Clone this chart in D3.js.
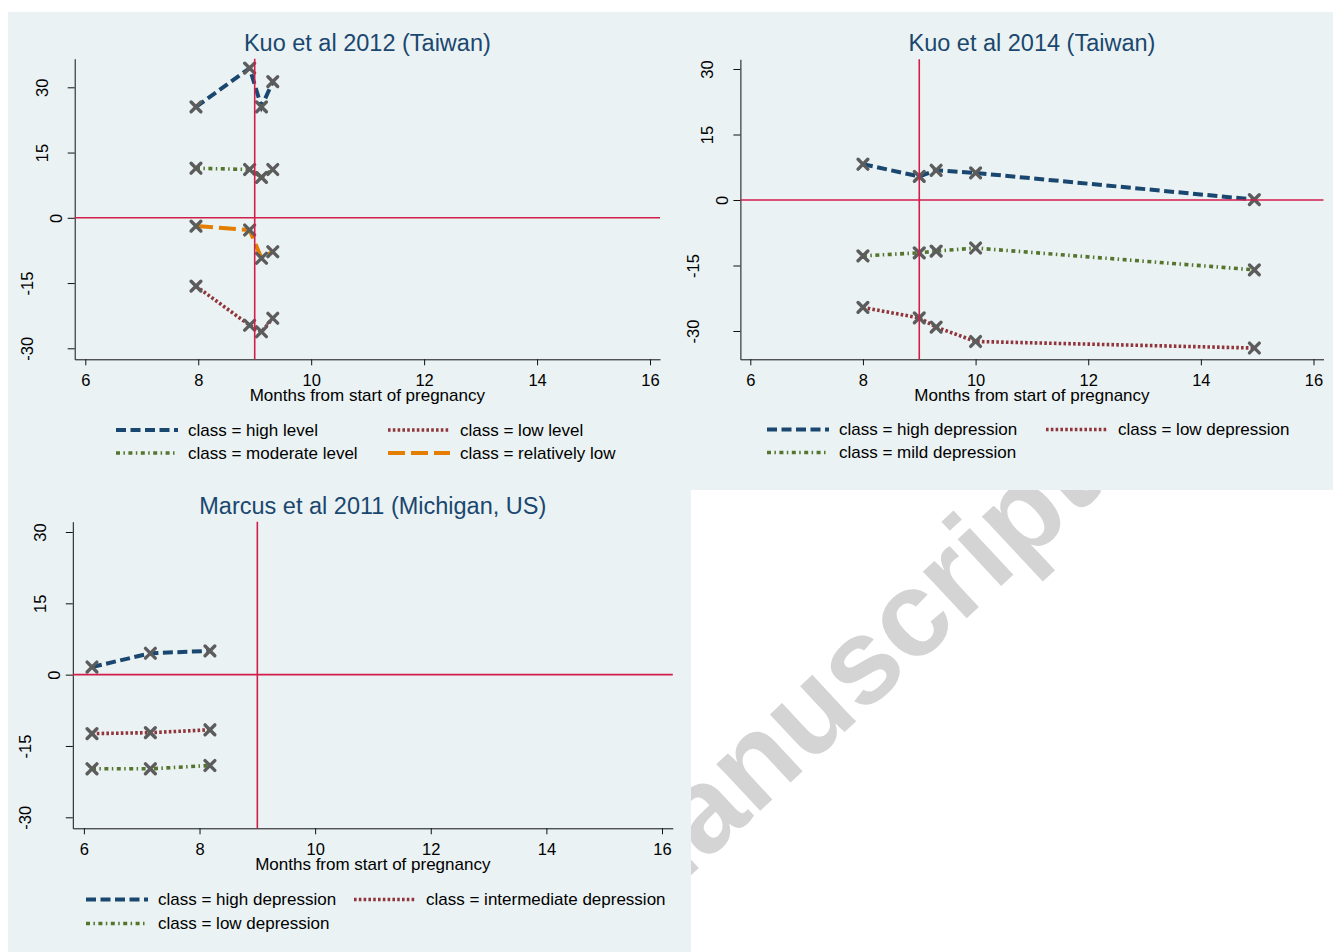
<!DOCTYPE html>
<html>
<head>
<meta charset="utf-8">
<script src="https://cdn.jsdelivr.net/npm/d3@7"></script>
<style>
body { margin: 0; background: #fff; }
svg { display: block; }
text { font-family: "Liberation Sans", Arial, sans-serif; }
</style>
</head>
<body>
<div id="chart"></div>
<script>
// ---- data ----
var xTicks = [6, 8, 10, 12, 14, 16];
var yTicks = [-30, -15, 0, 15, 30];
var refMonth = 9;
var refScore = 0;
var xTitle = "Months from start of pregnancy";

// Kuo et al 2012
var months2012 = [7.96, 8.91, 9.12, 9.32];
var highLevel = [25.5, 34.4, 25.5, 31.3];
var lowLevel = [-15.7, -24.7, -26.2, -23.1];
var moderateLevel = [11.4, 11.1, 9.3, 11.1];
var relativelyLow = [-1.9, -2.8, -9.3, -7.8];

// Kuo et al 2014
var months2014 = [8, 9, 9.3, 10, 14.95];
var highDep2014 = [8.2, 5.4, 6.8, 6.2, 0.1];
var lowDep2014 = [-24.6, -27.0, -29.1, -32.4, -33.9];
var mildDep2014 = [-12.8, -12.1, -11.7, -11.0, -16.0];

// Marcus et al 2011
var months2011 = [6.14, 7.15, 8.18];
var highDep2011 = [1.6, 4.5, 5.0];
var interDep2011 = [-12.4, -12.2, -11.6];
var lowDep2011 = [-19.8, -19.8, -19.1];

// ---- styles ----
var styles = {
  navy:   {color: "#1a476f", dash: "10,4.5", width: 4},
  maroon: {color: "#90353b", dash: "2.6,2.2", width: 3.6},
  green:  {color: "#55752f", dash: "4,3.4,1.5,3.5", width: 3.6},
  orange: {color: "#e37e00", dash: "17,6", width: 4}
};

var panels = [
  {
    title: "Kuo et al 2012 (Taiwan)",
    bg: {x: 8, y: 12, w: 672, h: 468},
    tickPx: {x6: 85.3, x16: 650, y30: 87.3, ym30: 348.3},
    plot: {left: 74.7, right: 660, top: 58.7, bottom: 359.3},
    titleY: 43,
    legend: {cols: [116, 388], rows: [430, 453]},
    months: months2012,
    series: [
      {label: "class = high level", values: highLevel, style: "navy"},
      {label: "class = low level", values: lowLevel, style: "maroon"},
      {label: "class = moderate level", values: moderateLevel, style: "green"},
      {label: "class = relatively low", values: relativelyLow, style: "orange"}
    ]
  },
  {
    title: "Kuo et al 2014 (Taiwan)",
    bg: {x: 680, y: 12, w: 653, h: 478},
    tickPx: {x6: 750.3, x16: 1313.5, y30: 69, ym30: 331},
    plot: {left: 740.4, right: 1323.5, top: 59.3, bottom: 359.3},
    titleY: 43,
    legend: {cols: [767, 1046], rows: [429.5, 452.5]},
    months: months2014,
    series: [
      {label: "class = high depression", values: highDep2014, style: "navy"},
      {label: "class = low depression", values: lowDep2014, style: "maroon"},
      {label: "class = mild depression", values: mildDep2014, style: "green"}
    ]
  },
  {
    title: "Marcus et al 2011 (Michigan, US)",
    bg: {x: 8, y: 478, w: 683, h: 474},
    tickPx: {x6: 83.9, x16: 662, y30: 532, ym30: 817.3},
    plot: {left: 72.8, right: 672.8, top: 521.7, bottom: 828.3},
    titleY: 506,
    legend: {cols: [86, 354], rows: [899.5, 923.5]},
    months: months2011,
    series: [
      {label: "class = high depression", values: highDep2011, style: "navy"},
      {label: "class = intermediate depression", values: interDep2011, style: "maroon"},
      {label: "class = low depression", values: lowDep2011, style: "green"}
    ]
  }
];

var width = 1333, height = 952;

var svg = d3.select("#chart").append("svg")
  .attr("width", width)
  .attr("height", height);

// watermark sits behind the panel backgrounds
svg.append("text")
  .attr("transform", "translate(1103,491) rotate(-43)")
  .attr("text-anchor", "end")
  .style("font-size", "121px")
  .style("font-weight", "bold")
  .attr("fill", "#d4d4d4")
  .text("Accepted Manuscript");

panels.forEach(function(p) {
  svg.append("rect")
    .attr("x", p.bg.x).attr("y", p.bg.y)
    .attr("width", p.bg.w).attr("height", p.bg.h)
    .attr("fill", "#eaf2f3");
});

panels.forEach(drawPanel);

function drawPanel(p) {
  // scales pinned to the tick positions, then stretched to the plot edges
  var xBase = d3.scaleLinear().domain([6, 16]).range([p.tickPx.x6, p.tickPx.x16]);
  var yBase = d3.scaleLinear().domain([-30, 30]).range([p.tickPx.ym30, p.tickPx.y30]);

  var xScale = d3.scaleLinear()
    .domain([xBase.invert(p.plot.left), xBase.invert(p.plot.right)])
    .range([p.plot.left, p.plot.right]);
  var yScale = d3.scaleLinear()
    .domain([yBase.invert(p.plot.bottom), yBase.invert(p.plot.top)])
    .range([p.plot.bottom, p.plot.top]);

  var g = svg.append("g");
  var cx = (p.plot.left + p.plot.right) / 2;

  g.append("text")
    .attr("x", cx).attr("y", p.titleY)
    .attr("text-anchor", "middle")
    .attr("dominant-baseline", "central")
    .style("font-size", "23.5px")
    .attr("fill", "#1a476f")
    .text(p.title);

  // x axis
  g.append("g")
    .attr("transform", `translate(0,${p.plot.bottom})`)
    .attr("color", "#111")
    .style("font-size", "16.5px")
    .call(d3.axisBottom(xScale).tickValues(xTicks).tickFormat(d => String(d))
      .tickSize(6).tickSizeOuter(0).tickPadding(9))
    .selectAll("text")
      .attr("fill", "#000");

  // y axis, labels turned on their side
  g.append("g")
    .attr("transform", `translate(${p.plot.left},0)`)
    .attr("color", "#111")
    .style("font-size", "16.5px")
    .call(d3.axisLeft(yScale).tickValues(yTicks).tickFormat(d => String(d))
      .tickSize(7).tickSizeOuter(0))
    .selectAll("text")
      .attr("fill", "#000")
      .attr("x", 0)
      .attr("dy", null)
      .attr("text-anchor", "middle")
      .attr("dominant-baseline", "central")
      .attr("transform", d => `translate(${-(18.7 + 14.4 * (String(d).length - 1))},0) rotate(-90)`);

  g.append("text")
    .attr("x", cx).attr("y", p.plot.bottom + 36)
    .attr("text-anchor", "middle")
    .attr("dominant-baseline", "central")
    .style("font-size", "17px")
    .attr("fill", "#000")
    .text(xTitle);

  var line = d3.line()
    .x(d => xScale(d[0]))
    .y(d => yScale(d[1]));

  var series = p.series.map(s => ({
    label: s.label,
    style: styles[s.style],
    points: s.values.map((v, i) => [p.months[i], v])
  }));

  g.append("g")
    .selectAll("path")
    .data(series)
    .join("path")
      .attr("d", d => line(d.points))
      .attr("fill", "none")
      .attr("stroke", d => d.style.color)
      .attr("stroke-width", d => d.style.width)
      .attr("stroke-dasharray", d => d.style.dash);

  var marker = d3.symbol(d3.symbolX, 64);
  g.append("g")
    .selectAll("path")
    .data(series.flatMap(d => d.points))
    .join("path")
      .attr("transform", d => `translate(${xScale(d[0])},${yScale(d[1])})`)
      .attr("d", marker)
      .attr("fill", "none")
      .attr("stroke", "#5c5c5c")
      .attr("stroke-width", 3.4)
      .attr("stroke-linecap", "round");

  // reference lines on top
  g.append("line")
    .attr("x1", p.plot.left).attr("x2", p.plot.right)
    .attr("y1", yScale(refScore)).attr("y2", yScale(refScore))
    .attr("stroke", "#d21e4b").attr("stroke-width", 1.6);
  g.append("line")
    .attr("x1", xScale(refMonth)).attr("x2", xScale(refMonth))
    .attr("y1", p.plot.top).attr("y2", p.plot.bottom)
    .attr("stroke", "#d21e4b").attr("stroke-width", 1.6);

  // legend, two columns
  var leg = g.append("g")
    .selectAll("g")
    .data(series)
    .join("g")
      .attr("transform", (d, i) => `translate(${p.legend.cols[i % 2]},${p.legend.rows[Math.floor(i / 2)]})`);
  leg.append("line")
    .attr("x1", 0).attr("x2", 62)
    .attr("stroke", d => d.style.color)
    .attr("stroke-width", d => d.style.width)
    .attr("stroke-dasharray", d => d.style.dash);
  leg.append("text")
    .attr("x", 72)
    .attr("dominant-baseline", "central")
    .style("font-size", "17px")
    .attr("fill", "#000")
    .text(d => d.label);
}
</script>
</body>
</html>
